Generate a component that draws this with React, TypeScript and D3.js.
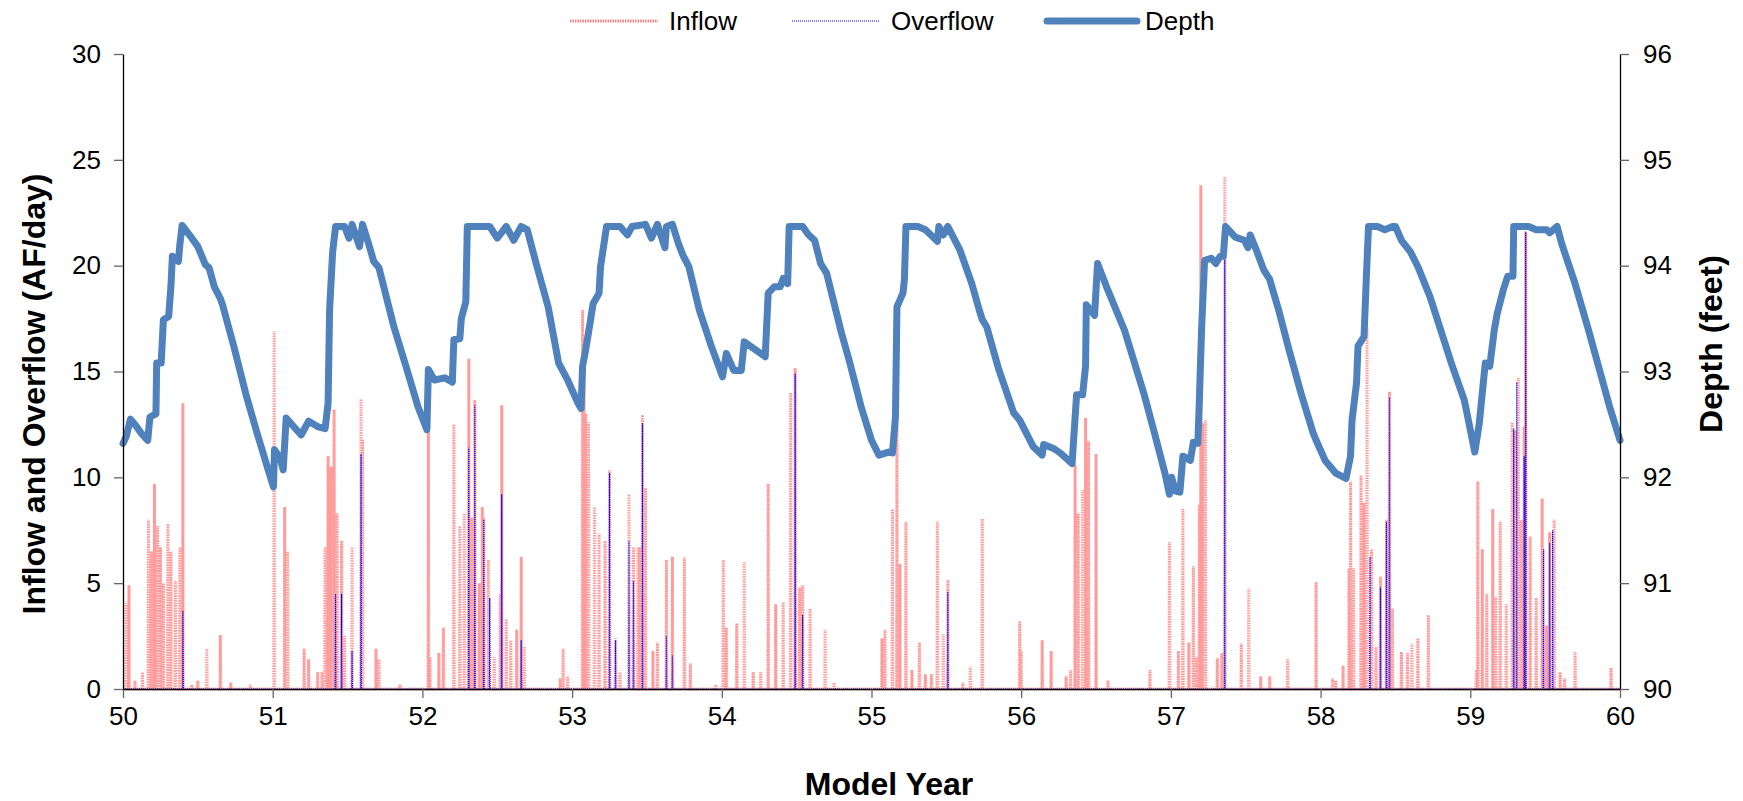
import React, { useEffect, useRef } from 'react';
import * as d3 from 'd3';

const yearTicks = [50, 51, 52, 53, 54, 55, 56, 57, 58, 59, 60];
const flowTicks = [0, 5, 10, 15, 20, 25, 30];
const depthTicks = [90, 91, 92, 93, 94, 95, 96];

// [model year, depth ft]
const depthPoints: [number, number][] = [
  [50.0, 92.32], [50.02, 92.38], [50.05, 92.55], [50.09, 92.48], [50.12, 92.42], [50.165, 92.35], [50.18, 92.57],
  [50.22, 92.6], [50.225, 93.08], [50.255, 93.08], [50.27, 93.49], [50.305, 93.52], [50.32, 93.8], [50.33, 94.09],
  [50.37, 94.04], [50.38, 94.2], [50.395, 94.38], [50.46, 94.26], [50.5, 94.18], [50.55, 94.01], [50.575, 93.98],
  [50.61, 93.8], [50.65, 93.69], [50.665, 93.63], [50.74, 93.24], [50.82, 92.79], [50.895, 92.42], [50.97, 92.07],
  [51.005, 91.91], [51.012, 92.26], [51.05, 92.18], [51.07, 92.07], [51.09, 92.56], [51.19, 92.4], [51.24, 92.53],
  [51.3, 92.48], [51.35, 92.46], [51.37, 92.7], [51.38, 93.58], [51.4, 94.12], [51.42, 94.37], [51.48, 94.37],
  [51.51, 94.26], [51.53, 94.39], [51.58, 94.18], [51.6, 94.39], [51.64, 94.21], [51.675, 94.04], [51.71, 93.98],
  [51.81, 93.42], [51.89, 93.05], [51.97, 92.67], [52.03, 92.45], [52.04, 93.02], [52.08, 92.92], [52.15, 92.94],
  [52.2, 92.9], [52.21, 93.3], [52.25, 93.31], [52.26, 93.5], [52.29, 93.66], [52.3, 94.37], [52.45, 94.37],
  [52.5, 94.26], [52.56, 94.37], [52.61, 94.24], [52.66, 94.37], [52.7, 94.34], [52.76, 94.02], [52.84, 93.61],
  [52.91, 93.08], [52.97, 92.92], [53.04, 92.7], [53.06, 92.65], [53.07, 93.05], [53.09, 93.2], [53.12, 93.46],
  [53.14, 93.64], [53.18, 93.74], [53.19, 93.99], [53.23, 94.37], [53.32, 94.37], [53.37, 94.29], [53.4, 94.37],
  [53.49, 94.39], [53.53, 94.26], [53.57, 94.39], [53.62, 94.17], [53.63, 94.37], [53.67, 94.39], [53.71, 94.21],
  [53.74, 94.1], [53.78, 93.99], [53.85, 93.58], [53.93, 93.24], [54.005, 92.95], [54.03, 93.17], [54.08, 93.01],
  [54.13, 93.01], [54.15, 93.28], [54.29, 93.14], [54.31, 93.74], [54.35, 93.8], [54.39, 93.8], [54.41, 93.88],
  [54.44, 93.83], [54.45, 94.37], [54.54, 94.37], [54.58, 94.29], [54.62, 94.24], [54.66, 94.02], [54.7, 93.93],
  [54.8, 93.36], [54.85, 93.11], [54.93, 92.67], [55.0, 92.35], [55.05, 92.21], [55.12, 92.24], [55.14, 92.23],
  [55.16, 92.57], [55.17, 93.61], [55.21, 93.74], [55.22, 93.87], [55.23, 94.37], [55.31, 94.37], [55.36, 94.34],
  [55.44, 94.23], [55.45, 94.37], [55.48, 94.29], [55.51, 94.37], [55.59, 94.15], [55.67, 93.83], [55.72, 93.58],
  [55.74, 93.49], [55.77, 93.42], [55.85, 93.02], [55.95, 92.61], [55.99, 92.54], [56.08, 92.29], [56.14, 92.21],
  [56.15, 92.31], [56.22, 92.27], [56.26, 92.23], [56.34, 92.13], [56.37, 92.78], [56.41, 92.78], [56.43, 93.05],
  [56.435, 93.63], [56.49, 93.53], [56.51, 94.02], [56.57, 93.8], [56.69, 93.39], [56.82, 92.79], [56.89, 92.42],
  [56.96, 92.04], [56.99, 91.84], [57.005, 92.0], [57.03, 91.87], [57.06, 91.86], [57.08, 92.2], [57.13, 92.16],
  [57.15, 92.33], [57.18, 92.32], [57.19, 92.73], [57.205, 93.4], [57.225, 94.05], [57.27, 94.07], [57.3, 94.02],
  [57.33, 94.09], [57.35, 94.09], [57.365, 94.37], [57.43, 94.27], [57.49, 94.24], [57.515, 94.17], [57.53, 94.29],
  [57.57, 94.15], [57.62, 93.96], [57.66, 93.87], [57.72, 93.58], [57.79, 93.2], [57.87, 92.79], [57.95, 92.42],
  [57.97, 92.35], [58.03, 92.16], [58.1, 92.04], [58.17, 91.99], [58.2, 92.2], [58.21, 92.54], [58.24, 92.89],
  [58.25, 93.24], [58.29, 93.33], [58.305, 93.87], [58.32, 94.37], [58.38, 94.37], [58.43, 94.34], [58.48, 94.37],
  [58.5, 94.37], [58.54, 94.24], [58.6, 94.13], [58.65, 93.99], [58.73, 93.71], [58.78, 93.49], [58.88, 93.05],
  [58.96, 92.73], [59.03, 92.24], [59.06, 92.51], [59.1, 93.08], [59.13, 93.05], [59.16, 93.39], [59.18, 93.55],
  [59.22, 93.77], [59.25, 93.9], [59.285, 93.9], [59.29, 94.37], [59.39, 94.37], [59.44, 94.34], [59.51, 94.34],
  [59.53, 94.31], [59.58, 94.37], [59.61, 94.21], [59.7, 93.83], [59.79, 93.39], [59.87, 92.98], [59.93, 92.67],
  [60.0, 92.35],
];

// [model year, AF/day] daily inflow peaks
const inflowSpikes: [number, number][] = [
  [50.02, 4.05], [50.04, 4.9], [50.08, 0.4], [50.13, 0.8], [50.17, 8.0], [50.19, 6.5], [50.21, 9.7], [50.23, 7.7],
  [50.25, 6.7], [50.27, 5.0], [50.3, 7.8], [50.32, 6.5], [50.35, 5.1], [50.38, 6.7], [50.4, 13.5], [50.46, 0.2],
  [50.5, 0.4], [50.56, 1.9], [50.65, 2.55], [50.72, 0.3], [50.85, 0.2], [51.01, 16.9], [51.08, 8.6], [51.1, 6.5],
  [51.21, 1.9], [51.24, 1.4], [51.3, 0.8], [51.33, 0.8], [51.35, 6.7], [51.37, 11.0], [51.39, 10.5], [51.41, 13.2],
  [51.43, 8.3], [51.46, 7.0], [51.48, 2.5], [51.53, 6.7], [51.59, 13.7], [51.6, 11.8], [51.69, 1.9], [51.71, 1.4],
  [51.85, 0.2], [52.04, 12.2], [52.05, 1.5], [52.11, 1.7], [52.14, 2.9], [52.21, 12.5], [52.25, 7.7], [52.28, 8.3],
  [52.31, 15.6], [52.33, 8.1], [52.35, 13.65], [52.38, 5.0], [52.4, 8.6], [52.41, 8.1], [52.44, 6.1], [52.48, 1.5],
  [52.52, 4.5], [52.53, 13.4], [52.56, 3.3], [52.59, 2.3], [52.63, 2.8], [52.66, 6.25], [52.68, 2.0], [52.92, 0.5],
  [52.94, 1.9], [52.97, 0.6], [53.07, 17.9], [53.08, 16.2], [53.09, 13.0], [53.11, 12.6], [53.15, 8.6], [53.18, 7.35],
  [53.22, 7.0], [53.25, 10.35], [53.29, 2.4], [53.32, 0.8], [53.38, 9.2], [53.41, 6.7], [53.44, 6.7], [53.45, 6.7],
  [53.47, 12.95], [53.49, 9.5], [53.54, 1.8], [53.57, 2.2], [53.63, 6.1], [53.67, 6.25], [53.75, 6.2], [53.79, 1.2],
  [53.96, 0.2], [54.01, 6.1], [54.03, 2.9], [54.1, 3.1], [54.15, 6.0], [54.21, 0.8], [54.26, 0.8], [54.31, 9.7],
  [54.36, 4.0], [54.41, 4.1], [54.46, 14.0], [54.49, 15.15], [54.52, 4.8], [54.54, 4.9], [54.59, 3.8], [54.69, 2.8],
  [54.75, 0.3], [55.07, 2.4], [55.09, 2.8], [55.14, 8.5], [55.17, 12.55], [55.19, 5.9], [55.23, 7.9], [55.27, 0.9],
  [55.32, 2.2], [55.36, 0.7], [55.4, 0.7], [55.44, 7.9], [55.48, 2.6], [55.51, 5.15], [55.61, 0.3], [55.66, 1.05],
  [55.74, 8.05], [55.99, 3.2], [56.0, 1.8], [56.14, 2.3], [56.2, 1.8], [56.3, 0.6], [56.33, 0.9], [56.36, 10.6],
  [56.38, 8.3], [56.41, 9.4], [56.43, 12.8], [56.45, 11.7], [56.5, 11.1], [56.58, 0.4], [56.86, 0.9], [56.99, 6.95],
  [57.05, 1.8], [57.08, 8.5], [57.12, 2.2], [57.15, 5.8], [57.17, 1.5], [57.19, 8.7], [57.2, 23.8], [57.21, 12.55],
  [57.23, 12.7], [57.31, 1.45], [57.34, 1.7], [57.36, 24.2], [57.47, 2.15], [57.52, 4.75], [57.6, 0.6], [57.66, 0.6],
  [57.78, 1.4], [57.97, 5.05], [58.08, 0.5], [58.1, 0.4], [58.15, 1.1], [58.19, 5.7], [58.2, 9.8], [58.22, 5.7],
  [58.27, 10.1], [58.29, 8.8], [58.31, 17.1], [58.34, 6.6], [58.37, 2.0], [58.4, 5.3], [58.44, 8.0], [58.46, 14.05],
  [58.48, 3.8], [58.54, 1.75], [58.58, 1.7], [58.61, 2.15], [58.65, 2.4], [58.72, 3.5], [59.04, 0.9], [59.05, 9.8],
  [59.08, 6.6], [59.11, 4.5], [59.15, 8.5], [59.17, 4.35], [59.2, 7.9], [59.24, 4.0], [59.28, 12.6], [59.3, 12.2],
  [59.32, 14.7], [59.34, 8.0], [59.36, 12.4], [59.37, 21.6], [59.4, 7.2], [59.44, 4.3], [59.48, 9.0], [59.51, 3.0],
  [59.53, 7.4], [59.56, 8.0], [59.6, 0.8], [59.63, 0.5], [59.7, 1.75], [59.94, 1.0],
];

// [model year, AF/day] overflow peaks
const overflowSpikes: [number, number][] = [
  [50.4, 3.7], [51.42, 4.5], [51.46, 4.5], [51.53, 1.8], [51.59, 11.1], [52.31, 11.4], [52.35, 13.4], [52.41, 8.0],
  [52.45, 4.3], [52.53, 9.2], [52.66, 2.3], [53.25, 10.2], [53.29, 2.3], [53.38, 7.0], [53.41, 5.1], [53.47, 12.55],
  [53.63, 2.5], [53.67, 1.6], [54.49, 14.9], [54.54, 3.5], [55.51, 4.6], [57.36, 20.3], [58.33, 6.25], [58.4, 4.8],
  [58.44, 7.9], [58.46, 13.8], [59.29, 12.3], [59.31, 14.5], [59.36, 11.0], [59.37, 21.6], [59.49, 6.6], [59.53, 6.9],
  [59.55, 7.5],
];

const legendItems = ['Inflow', 'Overflow', 'Depth'];

const App = () => {
  const ref = useRef<SVGSVGElement>(null);

  useEffect(() => {
    if (!ref.current) return;
    const width = 1743;
    const height = 801;
    const left = 123;
    const right = 1620;
    const top = 54;
    const bottom = 689;
    const font = '"Liberation Sans", Arial, sans-serif';
    const day = 1 / 365;
    const inflowColor = '#ff8282';

    const svg = d3.select(ref.current);
    svg.selectAll('*').remove();

    const x = d3.scaleLinear().domain([50, 60]).range([left, right]);
    const yFlow = d3.scaleLinear().domain([0, 30]).range([bottom, top]);
    const yDepth = d3.scaleLinear().domain([90, 96]).range([bottom, top]);

    // spikes drawn as a daily line that returns to zero between peaks
    const spikeLine = (spikes: [number, number][]) => {
      const pts: [number, number][] = [[50, 0]];
      spikes.slice().sort((a, b) => a[0] - b[0]).forEach(([t, v]) => {
        pts.push([t - day, 0], [t, v], [t + day, 0]);
      });
      pts.push([60, 0]);
      return pts;
    };

    const flowLine = d3.line<[number, number]>().x(d => x(d[0])).y(d => yFlow(d[1]));
    const depthLine = d3.line<[number, number]>().x(d => x(d[0])).y(d => yDepth(d[1]));

    svg.append('path')
      .attr('d', flowLine(spikeLine(inflowSpikes)))
      .attr('fill', 'none')
      .attr('stroke', inflowColor)
      .attr('stroke-opacity', 0.8)
      .attr('stroke-width', 3)
      .attr('stroke-dasharray', '1.5,1');

    svg.append('path')
      .attr('d', flowLine(spikeLine(overflowSpikes)))
      .attr('fill', 'none')
      .attr('stroke', '#0000ff')
      .attr('stroke-width', 1.2)
      .attr('stroke-dasharray', '1,1');

    svg.append('path')
      .attr('d', depthLine(depthPoints))
      .attr('fill', 'none')
      .attr('stroke', '#4f81bd')
      .attr('stroke-width', 7)
      .attr('stroke-linejoin', 'round')
      .attr('stroke-linecap', 'round');

    // axes
    const styleAxis = (g: d3.Selection<SVGGElement, unknown, null, undefined>) => {
      g.attr('font-family', null).attr('font-size', null);
      g.select('.domain').attr('stroke', '#000').attr('stroke-width', 1.3);
      g.selectAll('.tick line').attr('stroke', '#666').attr('stroke-width', 1.3);
      g.selectAll('.tick text').attr('fill', '#000').style('font-family', font).style('font-size', '26px');
    };

    svg.append('g')
      .attr('transform', `translate(0,${bottom})`)
      .call(d3.axisBottom(x).tickValues(yearTicks).tickSize(9).tickPadding(9).tickSizeOuter(0).tickFormat(d3.format('d')))
      .call(styleAxis);

    svg.append('g')
      .attr('transform', `translate(${left},0)`)
      .call(d3.axisLeft(yFlow).tickValues(flowTicks).tickSize(9).tickPadding(13).tickSizeOuter(0).tickFormat(d3.format('d')))
      .call(styleAxis);

    svg.append('g')
      .attr('transform', `translate(${right},0)`)
      .call(d3.axisRight(yDepth).tickValues(depthTicks).tickSize(9).tickPadding(14).tickSizeOuter(0).tickFormat(d3.format('d')))
      .call(styleAxis);

    // axis titles
    svg.append('text')
      .attr('x', 889).attr('y', 795)
      .attr('text-anchor', 'middle')
      .style('font-family', font).style('font-size', '32px').style('font-weight', 'bold')
      .text('Model Year');

    svg.append('text')
      .attr('transform', `translate(45,394) rotate(-90)`)
      .attr('text-anchor', 'middle')
      .style('font-family', font).style('font-size', '32px').style('font-weight', 'bold')
      .text('Inflow and Overflow (AF/day)');

    svg.append('text')
      .attr('transform', `translate(1722,344) rotate(-90)`)
      .attr('text-anchor', 'middle')
      .style('font-family', font).style('font-size', '32px').style('font-weight', 'bold')
      .text('Depth (feet)');

    // legend
    const legendX = [570, 792, 1047];
    const legend = svg.append('g');
    legendItems.forEach((name, i) => {
      const x0 = legendX[i];
      const line = legend.append('line')
        .attr('x1', x0).attr('x2', x0 + (i === 2 ? 90 : 88))
        .attr('y1', 21).attr('y2', 21);
      if (i === 0) {
        line.attr('stroke', inflowColor).attr('stroke-width', 3).attr('stroke-dasharray', '1.5,1');
      } else if (i === 1) {
        line.attr('stroke', '#0000ff').attr('stroke-width', 1.2).attr('stroke-dasharray', '1,1');
      } else {
        line.attr('stroke', '#4f81bd').attr('stroke-width', 7).attr('stroke-linecap', 'round');
      }
      legend.append('text')
        .attr('x', x0 + (i === 2 ? 98 : 99)).attr('y', 21).attr('dy', '0.36em')
        .style('font-family', font).style('font-size', '26px')
        .text(name);
    });

    svg.attr('width', width).attr('height', height);
  }, []);

  return (
    <svg
      ref={ref}
      width={1743}
      height={801}
      style={{ position: 'absolute', left: 0, top: 0, background: '#fff' }}
    />
  );
};

export default App;
